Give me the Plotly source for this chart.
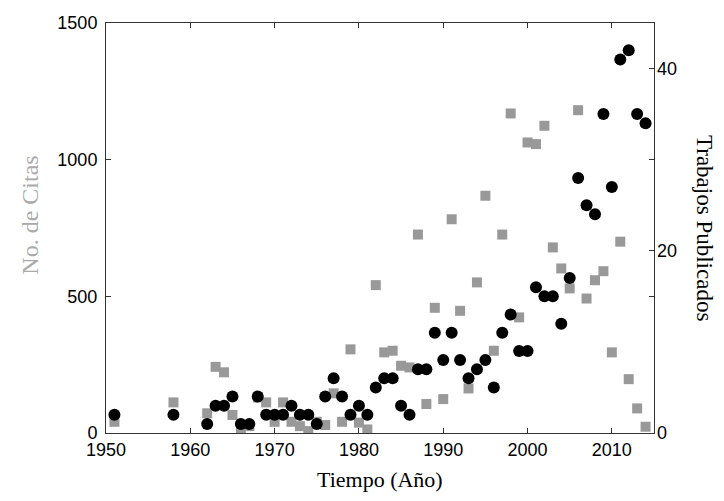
import plotly.graph_objects as go

# Citations (gray squares, left axis)
cit_years = [1951, 1958, 1962, 1963, 1964, 1965, 1966, 1967, 1968, 1969, 1970, 1971, 1972, 1973, 1974,
             1975, 1976, 1977, 1978, 1979, 1980, 1981, 1982, 1983, 1984, 1985, 1986, 1987, 1988, 1989,
             1990, 1991, 1992, 1993, 1994, 1995, 1996, 1997, 1998, 1999, 2000, 2001, 2002, 2003, 2004,
             2005, 2006, 2007, 2008, 2009, 2010, 2011, 2012, 2013, 2014]
citas = [41, 112, 72, 242, 222, 66, 10, 25, 130, 112, 41, 112, 41, 25, 7,
         41, 29, 145, 41, 306, 38, 13, 541, 295, 301, 246, 240, 726, 106, 458,
         124, 782, 447, 163, 551, 868, 301, 726, 1169, 423, 1063, 1057, 1124, 679, 602,
         529, 1181, 492, 559, 592, 295, 700, 197, 90, 23]

# Publications (black circles, right axis)
pub_years = [1951, 1958, 1962, 1963, 1964, 1965, 1966, 1967, 1968, 1969, 1970, 1971, 1972, 1973, 1974,
             1975, 1976, 1977, 1978, 1979, 1980, 1981, 1982, 1983, 1984, 1985, 1986, 1987, 1988, 1989,
             1990, 1991, 1992, 1993, 1994, 1995, 1996, 1997, 1998, 1999, 2000, 2001, 2002, 2003, 2004,
             2005, 2006, 2007, 2008, 2009, 2010, 2011, 2012, 2013, 2014]
trabajos = [2, 2, 1, 3, 3, 4, 1, 1, 4, 2, 2, 2, 3, 2, 2,
            1, 4, 6, 4, 2, 3, 2, 5, 6, 6, 3, 2, 7, 7, 11,
            8, 11, 8, 6, 7, 8, 5, 11, 13, 9, 9, 16, 15, 15, 12,
            17, 28, 25, 24, 35, 27, 41, 42, 35, 34]

x_ticks = [1950, 1960, 1970, 1980, 1990, 2000, 2010]
left_ticks = [0, 500, 1000, 1500]
right_ticks = [0, 20, 40]

axis_col = "#333333"
tick_font = dict(family="Liberation Sans", size=18, color="black")
title_family = "Liberation Serif"

fig = go.Figure()
fig.add_trace(go.Scatter(x=cit_years, y=citas, mode="markers",
                         marker=dict(symbol="square", size=10, color="#999999"),
                         yaxis="y", showlegend=False))
fig.add_trace(go.Scatter(x=pub_years, y=trabajos, mode="markers",
                         marker=dict(symbol="circle", size=12, color="black"),
                         yaxis="y2", showlegend=False))

fig.update_layout(
    width=724, height=501,
    margin=dict(l=98, r=78, t=15, b=76),
    paper_bgcolor="white", plot_bgcolor="white",
    xaxis=dict(range=[1950, 2015], tickvals=x_ticks, ticks="inside", ticklen=5,
               tickcolor=axis_col, showline=True, linecolor=axis_col, linewidth=1,
               mirror="ticks", showgrid=False, zeroline=False, tickfont=tick_font,
               ticklabelstandoff=0),
    yaxis=dict(range=[0, 1500], tickvals=left_ticks, ticks="inside", ticklen=5,
               tickcolor=axis_col, showline=True, linecolor=axis_col, linewidth=1,
               mirror="ticks", showgrid=False, zeroline=False, tickfont=tick_font,
               ticklabelstandoff=4, automargin=False),
    yaxis2=dict(range=[0, 45], tickvals=right_ticks, overlaying="y", side="right",
                ticks="inside", ticklen=5, tickcolor=axis_col, showline=False,
                showgrid=False, zeroline=False, tickfont=tick_font, ticklabelstandoff=2,
                automargin=False),
    annotations=[
        dict(text="Tiempo (Año)", xref="paper", yref="paper", x=0.5, y=0, yshift=-46,
             showarrow=False, yanchor="middle",
             font=dict(family=title_family, size=22, color="black")),
        dict(text="No. de Citas", xref="paper", yref="paper", x=0, xshift=-76, y=0.53,
             showarrow=False, textangle=-90, xanchor="center",
             font=dict(family=title_family, size=24, color="#aaaaaa")),
        dict(text="Trabajos Publicados", xref="paper", yref="paper", x=1, xshift=51, y=0.5,
             showarrow=False, textangle=90, xanchor="center",
             font=dict(family=title_family, size=23, color="black")),
    ],
)

fig.write_html("out.html")
